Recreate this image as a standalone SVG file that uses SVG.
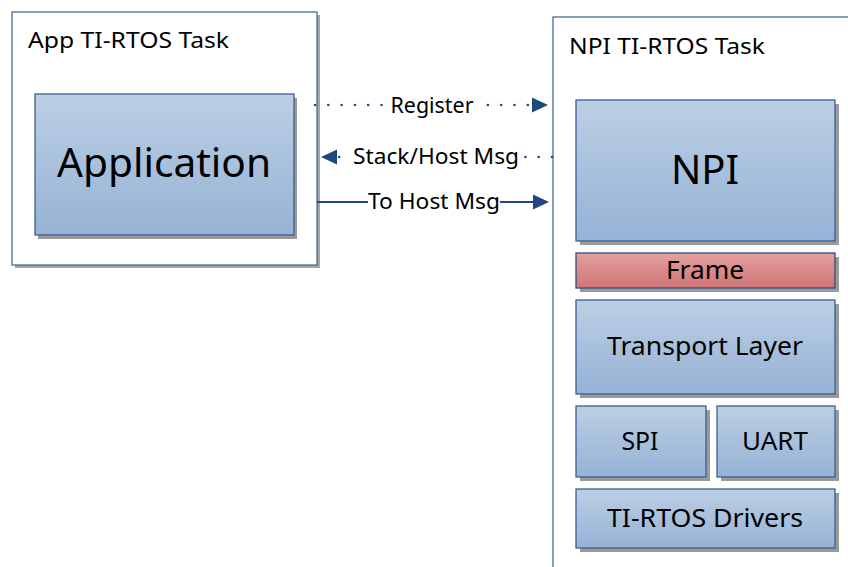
<svg xmlns="http://www.w3.org/2000/svg" width="848" height="567" viewBox="0 0 848 567">
<defs>
<linearGradient id="blue" x1="0" y1="0" x2="0" y2="1">
<stop offset="0" stop-color="#bccfe4"/>
<stop offset="1" stop-color="#96b2d5"/>
</linearGradient>
<linearGradient id="red" x1="0" y1="0" x2="0" y2="1">
<stop offset="0" stop-color="#e3a0a0"/>
<stop offset="1" stop-color="#cf7474"/>
</linearGradient>
<style>
.outer{fill:#ffffff;stroke:#3b5f93;stroke-width:1.2}
.oshadow{fill:#a6a6a6}
.shadow{fill:#9a9a9a}
.box{fill:url(#blue);stroke:#3b5f93;stroke-width:1.3}
.frame{fill:url(#red);stroke:#2f4f80;stroke-width:1.3}
.t{font-family:"Noto Sans","Open Sans","DejaVu Sans",sans-serif;fill:#000000}
.title{font-size:22px}
.big{font-size:40px;text-anchor:middle}
.mid{font-size:26px;text-anchor:middle}
.lbl{font-size:21.5px;text-anchor:middle}
.dot{stroke:#1f497d;stroke-width:2.6;stroke-linecap:round;stroke-dasharray:0 13.3;fill:none}
.solid{stroke:#1f497d;stroke-width:2;fill:none}
.bg{fill:#ffffff}
</style>
</defs>

<g id="app-task">
<rect class="oshadow" x="15" y="15" width="305" height="253"/>
<rect class="outer" x="12" y="12" width="305" height="253"/>
<text class="t title" x="28" y="48" textLength="201" lengthAdjust="spacingAndGlyphs">App TI-RTOS Task</text>
</g>

<g id="application">
<rect class="shadow" x="38" y="98" width="259" height="141"/>
<rect class="box" x="35" y="94" width="259" height="141"/>
<text class="t big" x="164" y="177" textLength="214" lengthAdjust="spacingAndGlyphs">Application</text>
</g>

<g id="npi-task">
<rect class="oshadow" x="556" y="20" width="300" height="560"/>
<rect class="outer" x="553" y="17" width="300" height="560"/>
<text class="t title" x="569" y="54" textLength="196" lengthAdjust="spacingAndGlyphs">NPI TI-RTOS Task</text>
</g>

<g id="npi">
<rect class="shadow" x="580" y="104" width="259" height="141"/>
<rect class="box" x="576" y="100" width="259" height="141"/>
<text class="t big" x="705" y="184">NPI</text>
</g>

<g id="frame">
<rect class="shadow" x="580" y="257" width="259" height="35"/>
<rect class="frame" x="576" y="253" width="259" height="35"/>
<text class="t mid" x="705" y="279" textLength="78" lengthAdjust="spacingAndGlyphs">Frame</text>
</g>

<g id="transport">
<rect class="shadow" x="580" y="304" width="259" height="94"/>
<rect class="box" x="576" y="300" width="259" height="94"/>
<text class="t mid" x="705" y="355" textLength="196" lengthAdjust="spacingAndGlyphs">Transport Layer</text>
</g>

<g id="spi">
<rect class="shadow" x="580" y="410" width="130" height="71"/>
<rect class="box" x="576" y="406" width="130" height="71"/>
<text class="t mid" x="640" y="450" textLength="37" lengthAdjust="spacingAndGlyphs">SPI</text>
</g>

<g id="uart">
<rect class="shadow" x="721" y="410" width="118" height="71"/>
<rect class="box" x="717" y="406" width="118" height="71"/>
<text class="t mid" x="775" y="450" textLength="66" lengthAdjust="spacingAndGlyphs">UART</text>
</g>

<g id="drivers">
<rect class="shadow" x="580" y="493" width="259" height="59"/>
<rect class="box" x="576" y="489" width="259" height="59"/>
<text class="t mid" x="705" y="527" textLength="196" lengthAdjust="spacingAndGlyphs">TI-RTOS Drivers</text>
</g>

<g id="connectors">
<line class="dot" x1="315" y1="105" x2="532" y2="105"/>
<path d="M532,97.5 L548,105 L532,112.5 Z" fill="#1f497d"/>
<rect class="bg" x="388" y="92" width="88" height="26"/>
<text class="t lbl" x="432" y="113" textLength="83" lengthAdjust="spacingAndGlyphs">Register</text>

<line class="dot" x1="552" y1="157" x2="338" y2="157"/>
<path d="M337,149.5 L321,157 L337,164.5 Z" fill="#1f497d"/>
<rect class="bg" x="350" y="143" width="172" height="26"/>
<text class="t lbl" x="436" y="164" textLength="166" lengthAdjust="spacingAndGlyphs">Stack/Host Msg</text>

<line class="solid" x1="317" y1="202" x2="534" y2="202"/>
<path d="M533,194.5 L549,202 L533,209.5 Z" fill="#1f497d"/>
<rect class="bg" x="368" y="189" width="132" height="26"/>
<text class="t lbl" x="434" y="209" textLength="132" lengthAdjust="spacingAndGlyphs">To Host Msg</text>
</g>
</svg>
